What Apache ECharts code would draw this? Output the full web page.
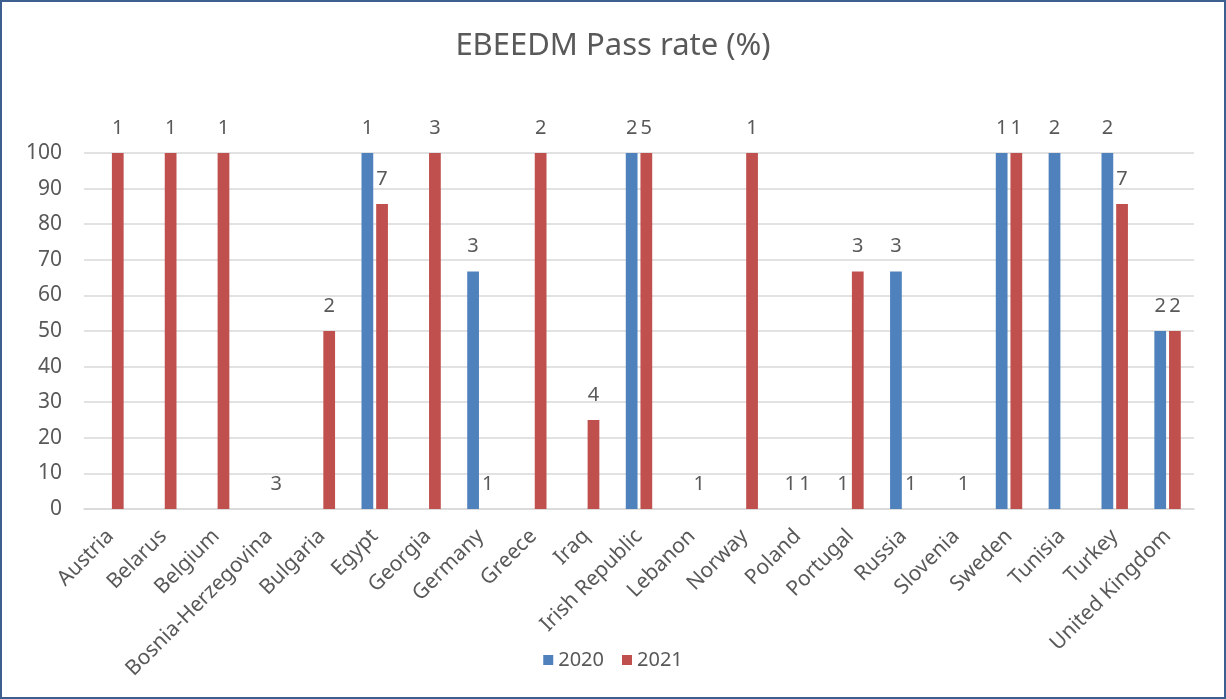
<!DOCTYPE html>
<html>
<head>
<meta charset="utf-8">
<script src="https://cdn.jsdelivr.net/npm/echarts@6/dist/echarts.min.js"></script>
<style>
html,body{margin:0;padding:0;background:#fff;}
#wrap{position:absolute;left:0;top:0;width:1222px;height:695px;border:2px solid #3d5f8f;background:#fff;}
#chart{width:1222px;height:695px;}
</style>
</head>
<body>
<div id="wrap"><div id="chart"></div></div>
<script>
const titleText = "EBEEDM Pass rate (%)";
const countries = ["Austria","Belarus","Belgium","Bosnia-Herzegovina","Bulgaria","Egypt","Georgia","Germany","Greece","Iraq","Irish Republic","Lebanon","Norway","Poland","Portugal","Russia","Slovenia","Sweden","Tunisia","Turkey","United Kingdom"];
const seriesNames = ["2020","2021"];
// pass rate (%) per country
const pass2020 = [null,null,null,null,null,100,null,66.7,null,null,100,null,null,0,0,66.7,null,100,100,100,50];
const pass2021 = [100,100,100,0,50,85.7,100,0,100,25,100,0,100,0,66.7,0,0,100,null,85.7,50];
// number of candidates shown above bars
const count2020 = [null,null,null,null,null,1,null,3,null,null,2,null,null,1,1,3,null,1,2,2,2];
const count2021 = [1,1,1,3,2,7,3,1,2,4,5,1,1,1,3,1,1,1,null,7,2];
const yTicks = {min:0, max:100, interval:10};

const textColor = '#595959';
const font = 'Noto Sans';
function labelOf(counts){
  return {
    show:true, position:'top', distance:15,
    color:textColor, fontSize:20, fontFamily:font,
    formatter: p => counts[p.dataIndex] == null ? '' : String(counts[p.dataIndex])
  };
}
const chart = echarts.init(document.getElementById('chart'));
chart.setOption({
  animation:false,
  backgroundColor:'#fff',
  title:{text:titleText,left:'center',top:24,textStyle:{color:textColor,fontSize:31,fontWeight:'normal',fontFamily:font}},
  legend:{data:seriesNames,bottom:22,left:'center',icon:'rect',itemWidth:10,itemHeight:10,itemGap:18,
    textStyle:{color:textColor,fontSize:20,fontFamily:font}},
  grid:{left:82,right:30,top:151,bottom:188},
  xAxis:{type:'category',data:countries,
    axisTick:{show:false},
    axisLine:{lineStyle:{color:'#d9d9d9',width:1.5}},
    axisLabel:{interval:0,rotate:45,margin:24,color:textColor,fontSize:21,fontFamily:font}},
  yAxis:{type:'value',min:yTicks.min,max:yTicks.max,interval:yTicks.interval,
    axisLine:{show:false},axisTick:{show:false},
    splitLine:{lineStyle:{color:'#d9d9d9',width:1.5}},
    axisLabel:{margin:22,color:textColor,fontSize:21,fontFamily:font}},
  series:[
    {name:seriesNames[0],type:'bar',data:pass2020,barGap:'25%',barCategoryGap:'50%',
     itemStyle:{color:'#4f81bd'},label:labelOf(count2020)},
    {name:seriesNames[1],type:'bar',data:pass2021,barGap:'25%',barCategoryGap:'50%',
     itemStyle:{color:'#c0504d'},label:labelOf(count2021)}
  ]
});
</script>
</body>
</html>
